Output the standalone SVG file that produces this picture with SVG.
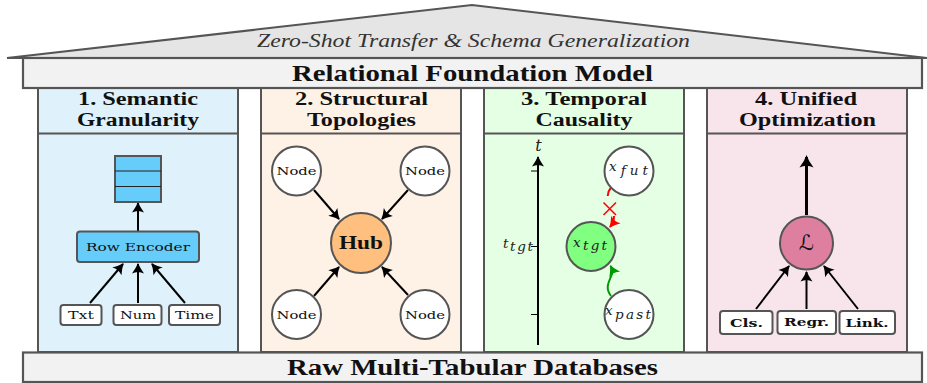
<svg xmlns="http://www.w3.org/2000/svg" width="927" height="383" viewBox="0 0 927 383">
<style>
text{font-family:"Liberation Serif","DejaVu Serif",serif;fill:#111;text-anchor:middle}
.s{stroke:#555;stroke-width:2}
.bar{fill:#f2f2f2;stroke:#555;stroke-width:2.2}
.t1{font-size:24px;font-weight:bold}
.t2{font-size:18.500px;font-weight:bold}
.lab{font-family:"DejaVu Serif",serif;font-size:10.500px}
.blab{font-family:"DejaVu Serif",serif;font-size:10.500px;font-weight:bold}
.m{font-family:"DejaVu Serif",serif;font-style:italic;font-size:13.500px;fill:#222}
.c{fill:#fff;stroke:#555;stroke-width:2}
.box{fill:#fff;stroke:#555;stroke-width:2}
.a{stroke:#000;stroke-width:2;fill:none;marker-end:url(#ah)}
</style>
<defs>
<marker id="ah" markerUnits="userSpaceOnUse" markerWidth="16" markerHeight="16" refX="12" refY="8" orient="auto"><path d="M13 8Q8 6 2.500 2Q5.500 8 2.500 14Q8 10 13 8Z" fill="#000"/></marker>
<marker id="ah2" markerUnits="userSpaceOnUse" markerWidth="18" markerHeight="18" refX="13" refY="9" orient="auto"><path d="M15 9Q9 7 2.500 2Q6 9 2.500 16Q9 11 15 9Z" fill="#000"/></marker>
<marker id="ar" markerUnits="userSpaceOnUse" markerWidth="16" markerHeight="16" refX="12" refY="8" orient="auto"><path d="M13 8Q8 6 2.500 2Q5.500 8 2.500 14Q8 10 13 8Z" fill="#f00"/></marker>
<marker id="ag" markerUnits="userSpaceOnUse" markerWidth="16" markerHeight="16" refX="12" refY="8" orient="auto"><path d="M13 8Q8 6 2.500 2Q5.500 8 2.500 14Q8 10 13 8Z" fill="#090"/></marker>
</defs>
<g id="roof"><path d="M7 58L472 5L927 58Z" fill="#e5e5e5" stroke="#555" stroke-width="2"/>
<text x="473.500" y="47" font-size="19" font-style="italic" style="fill:#333" textLength="433" lengthAdjust="spacingAndGlyphs">Zero-Shot Transfer &amp; Schema Generalization</text></g>
<g id="col1"><rect x="38" y="88" width="200" height="264" fill="#dff2fb" class="s"/><path d="M38 133.500H238" class="s"/>
<text class="t2" x="138" y="105" textLength="120" lengthAdjust="spacingAndGlyphs">1. Semantic</text><text class="t2" x="138" y="126" textLength="122" lengthAdjust="spacingAndGlyphs">Granularity</text></g>
<g id="col2"><rect x="261" y="88" width="200" height="264" fill="#fef1e6" class="s"/><path d="M261 133.500H461" class="s"/>
<text class="t2" x="361.500" y="105" textLength="133" lengthAdjust="spacingAndGlyphs">2. Structural</text><text class="t2" x="361.500" y="126" textLength="109" lengthAdjust="spacingAndGlyphs">Topologies</text></g>
<g id="col3"><rect x="484" y="88" width="200" height="264" fill="#e5ffe5" class="s"/><path d="M484 133.500H684" class="s"/>
<text class="t2" x="584" y="105" textLength="126" lengthAdjust="spacingAndGlyphs">3. Temporal</text><text class="t2" x="584" y="126" textLength="97" lengthAdjust="spacingAndGlyphs">Causality</text></g>
<g id="col4"><rect x="707" y="88" width="200" height="264" fill="#f8e5ec" class="s"/><path d="M707 133.500H907" class="s"/>
<text class="t2" x="806" y="105" textLength="102" lengthAdjust="spacingAndGlyphs">4. Unified</text><text class="t2" x="807.500" y="126" textLength="137" lengthAdjust="spacingAndGlyphs">Optimization</text></g>
<g id="top-bar"><rect x="23" y="58" width="899" height="30" class="bar"/><text class="t1" x="472.500" y="81" textLength="361" lengthAdjust="spacingAndGlyphs">Relational Foundation Model</text></g>
<g id="bottom-bar"><rect x="23" y="352.500" width="899" height="29.500" class="bar"/><text class="t1" x="472.500" y="375" textLength="371" lengthAdjust="spacingAndGlyphs">Raw Multi-Tabular Databases</text></g>
<g id="connectors">
<path class="a" d="M138 231V203"/><path class="a" d="M90 303L123 264"/><path class="a" d="M138 303V264"/><path class="a" d="M185 303L152 264"/>
<path class="a" d="M314 190L339 219"/><path class="a" d="M408 190L382 219"/><path class="a" d="M314 296L339 267"/><path class="a" d="M408 295L382 267"/>
<path class="a" d="M538 345V157"/><path d="M531 171H538M531 246.500H538M531 314.500H538" stroke="#000" stroke-width="1"/>
<path d="M610.700 188Q608 191 607.700 196" fill="none" stroke="#f00" stroke-width="2"/>
<path d="M614 216Q614 222 610 227" fill="none" stroke="#f00" stroke-width="2" marker-end="url(#ar)"/>
<path d="M603.500 202.500L616 215M616 202.500L603.500 215" stroke="#f00" stroke-width="1.500"/>
<path d="M611 296C604 287 610 280 612 274Q613 271 610.500 266" fill="none" stroke="#090" stroke-width="2" marker-end="url(#ag)"/>
<path d="M806.500 215V157" stroke="#000" stroke-width="3" marker-end="url(#ah2)" fill="none"/>
<path class="a" d="M756 309L789 266"/><path class="a" d="M806.500 309V272"/><path class="a" d="M858 309L824 266"/>
</g>
<g id="stack"><rect x="115" y="156" width="46" height="46" fill="#66ccf9" class="s"/><path d="M115 171H161M115 186.500H161" stroke="#222" stroke-width="1"/></g>
<g id="row-encoder"><rect x="77" y="231.500" width="122" height="30.500" rx="3" fill="#66ccf9" class="s"/><text class="lab" x="138" y="250.500" textLength="104" lengthAdjust="spacingAndGlyphs">Row Encoder</text></g>
<g id="txt"><rect x="60.500" y="305" width="41" height="20" rx="3" class="box"/><text class="lab" x="81" y="319" textLength="26" lengthAdjust="spacingAndGlyphs">Txt</text></g>
<g id="num"><rect x="113.500" y="305" width="48" height="20" rx="3" class="box"/><text class="lab" x="138" y="319" textLength="36" lengthAdjust="spacingAndGlyphs">Num</text></g>
<g id="time"><rect x="169" y="305" width="51" height="20" rx="3" class="box"/><text class="lab" x="194.500" y="319" textLength="39" lengthAdjust="spacingAndGlyphs">Time</text></g>
<g id="node-tl"><circle cx="296.500" cy="171" r="24.500" class="c"/><text class="lab" x="296.500" y="175" textLength="40" lengthAdjust="spacingAndGlyphs">Node</text></g>
<g id="node-tr"><circle cx="425" cy="171" r="24.500" class="c"/><text class="lab" x="425" y="175" textLength="40" lengthAdjust="spacingAndGlyphs">Node</text></g>
<g id="node-bl"><circle cx="296.500" cy="314.500" r="24.500" class="c"/><text class="lab" x="296.500" y="318.500" textLength="40" lengthAdjust="spacingAndGlyphs">Node</text></g>
<g id="node-br"><circle cx="425" cy="314.500" r="24.500" class="c"/><text class="lab" x="425" y="318.500" textLength="40" lengthAdjust="spacingAndGlyphs">Node</text></g>
<g id="hub"><circle cx="361" cy="243" r="30" fill="#ffbf7f" class="s"/><text x="361" y="249" font-size="19" font-weight="bold" textLength="44" lengthAdjust="spacingAndGlyphs">Hub</text></g>
<g id="time-labels"><text class="m" x="538.500" y="151" style="font-size:16px">t</text>
<text class="m" x="518" y="248" textLength="30">t<tspan dy="3">tgt</tspan></text></g>
<g id="x-fut"><circle cx="629" cy="171" r="24.500" class="c"/><text class="m" x="628.500" y="171" textLength="39">x<tspan dy="4">fut</tspan></text></g>
<g id="x-tgt"><circle cx="591" cy="246.500" r="24.500" fill="#80ff80" class="s"/><text class="m" x="590" y="246.500" textLength="34">x<tspan dy="3.500">tgt</tspan></text></g>
<g id="x-past"><circle cx="629" cy="314.500" r="24.500" class="c"/><text class="m" x="628" y="315" textLength="46">x<tspan dy="3.500">past</tspan></text></g>
<g id="loss"><circle cx="806.500" cy="243" r="26.500" fill="#df7fa0" class="s"/><text x="806.500" y="250" font-size="21" style="font-family:'DejaVu Serif','DejaVu Sans',serif;font-style:italic">ℒ</text></g>
<g id="cls"><rect x="720" y="311" width="52.500" height="23" rx="3" class="box"/><text class="blab" x="746.500" y="327" textLength="33" lengthAdjust="spacingAndGlyphs">Cls.</text></g>
<g id="regr"><rect x="777.500" y="311" width="58.500" height="23" rx="3" class="box"/><text class="blab" x="806.500" y="326" textLength="45" lengthAdjust="spacingAndGlyphs">Regr.</text></g>
<g id="link"><rect x="839.500" y="311" width="55.500" height="23" rx="3" class="box"/><text class="blab" x="867" y="327" textLength="43" lengthAdjust="spacingAndGlyphs">Link.</text></g>
</svg>
